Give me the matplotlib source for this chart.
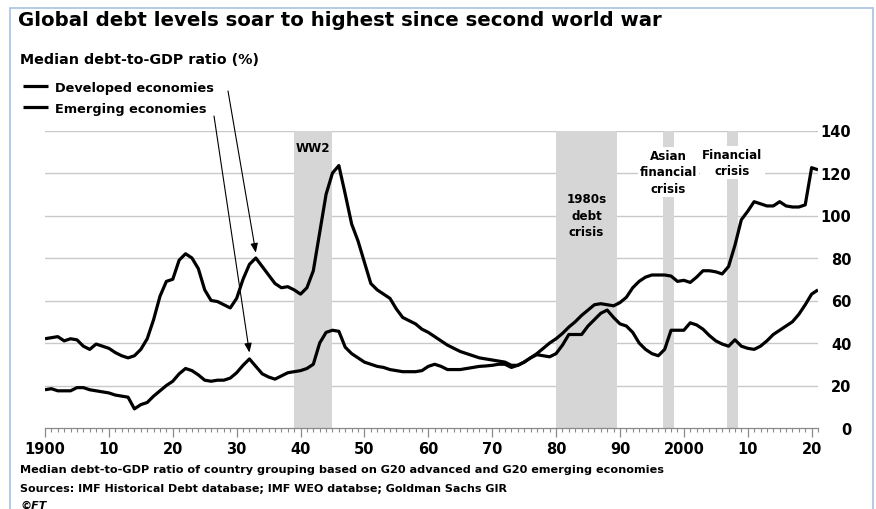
import matplotlib
matplotlib.use("Agg")
import matplotlib.pyplot as plt
from matplotlib.patches import Rectangle

# median debt-to-GDP ratio (%)
years = list(range(1900, 2022))

developed = [
    42, 42.5, 43, 41, 42, 41.5, 38.5, 37, 39.5, 38.5,
    37.5, 35.5, 34, 33, 34, 37, 42, 51, 62, 69,
    70, 79, 82, 80, 75, 65, 60, 59.5, 58, 56.5,
    61, 70, 77, 80, 76, 72, 68, 66, 66.5, 65,
    63, 66, 74, 92, 110, 120, 123.5, 110, 96, 88,
    78, 68, 65, 63, 61, 56, 52, 50.5, 49, 46.5,
    45, 43, 41, 39, 37.5, 36, 35, 34, 33, 32.5,
    32, 31.5, 31, 29.5, 29.5, 31, 33, 35, 37.5, 40,
    42, 44.5, 47.5, 50, 53, 55.5, 58, 58.5, 58, 57.5,
    59, 61.5, 66, 69, 71, 72, 72, 72, 71.5, 69,
    69.5, 68.5, 71, 74, 74, 73.5, 72.5, 76, 86, 98,
    102, 106.5, 105.5, 104.5, 104.5, 106.5, 104.5, 104, 104, 105,
    122.5, 121.5,
]

emerging = [
    18, 18.5, 17.5, 17.5, 17.5, 19, 19, 18, 17.5, 17,
    16.5, 15.5, 15, 14.5, 9, 11, 12, 15, 17.5, 20,
    22, 25.5, 28, 27, 25, 22.5, 22, 22.5, 22.5, 23.5,
    26, 29.5, 32.5, 29, 25.5, 24, 23, 24.5, 26, 26.5,
    27, 28, 30, 40, 45, 46, 45.5, 38, 35, 33,
    31, 30, 29, 28.5, 27.5, 27, 26.5, 26.5, 26.5, 27,
    29, 30, 29, 27.5, 27.5, 27.5, 28, 28.5, 29, 29.2,
    29.5, 30, 30, 28.5, 29.5, 31, 33, 34.5, 34, 33.5,
    35, 39, 44, 44, 44, 48, 51, 54, 55.5, 52,
    49, 48, 45, 40, 37, 35, 34, 37, 46, 46,
    46, 49.5, 48.5, 46.5, 43.5, 41, 39.5, 38.5, 41.5, 38.5,
    37.5, 37, 38.5, 41, 44, 46, 48, 50, 53.5, 58,
    63, 65,
]

# shaded episodes (start, end) and their labels
crisis_spans = [(1939, 1945), (1980, 1989.5), (1996.7, 1998.5), (2006.7, 2008.5)]
crisis_labels = ["WW2", "1980s\ndebt\ncrisis", "Asian\nfinancial\ncrisis", "Financial\ncrisis"]
crisis_label_y = [132, 100, 120.5, 125]

series_names = ["Developed economies", "Emerging economies"]
yticks = [0, 20, 40, 60, 80, 100, 120, 140]
xticks = list(range(1900, 2021, 10))
xticklabels = ["1900", "10", "20", "30", "40", "50", "60", "70", "80", "90", "2000", "10", "20"]

W, H = 876, 510
fig = plt.figure(figsize=(W / 100, H / 100), dpi=100)
fig.patch.set_facecolor("white")
ax = fig.add_axes([45 / W, 81 / H, 773 / W, 297.5 / H])

for yv in yticks[1:]:
    ax.axhline(yv, color="#c9c9c9", lw=1.0, zorder=1)

for (x0, x1) in crisis_spans:
    ax.axvspan(x0, x1, color="#d6d6d6", lw=0, zorder=2)

dev_line, = ax.plot(years, developed, color="black", lw=2.3, zorder=4,
                    solid_joinstyle="round", solid_capstyle="butt")
emg_line, = ax.plot(years, emerging, color="black", lw=2.3, zorder=4,
                    solid_joinstyle="round", solid_capstyle="butt")

lab_kw = dict(ha="center", va="center", fontsize=8.6, fontweight="bold",
              linespacing=1.35, zorder=3)
for (x0, x1), txt, yv in zip(crisis_spans, crisis_labels, crisis_label_y):
    xc = (x0 + x1) / 2
    if txt.startswith("Asian") or txt.startswith("Financial"):
        ax.text(xc, yv, txt, bbox=dict(facecolor="white", edgecolor="none", pad=1.5), **lab_kw)
    else:
        ax.text(xc, yv, txt, **lab_kw)

ax.set_xlim(1900, 2021)
ax.set_ylim(0, 140)

ax.set_xticks(xticks)
ax.set_xticklabels(xticklabels)
ax.set_xticks(range(1900, 2022), minor=True)
ax.tick_params(axis="x", which="major", direction="out", length=6.5, width=0.9,
               color="#8a8a8a", labelsize=10.5, pad=3)
ax.tick_params(axis="x", which="minor", direction="out", length=3, width=0.8,
               color="#8a8a8a")
for t in ax.get_xticklabels():
    t.set_fontweight("bold")

ax.yaxis.tick_right()
ax.set_yticks(yticks)
ax.tick_params(axis="y", length=0, labelsize=10.5, pad=24)
for t in ax.get_yticklabels():
    t.set_fontweight("bold")
    t.set_horizontalalignment("right")

for s in ["top", "left", "right"]:
    ax.spines[s].set_visible(False)
ax.spines["bottom"].set_color("#8a8a8a")
ax.spines["bottom"].set_linewidth(0.9)
ax.set_facecolor("none")

# arrows from legend text to the 1930s peaks
pk_dev = years.index(1933)
pk_emg = years.index(1932)
arrow_kw = dict(arrowstyle="-|>,head_length=0.55,head_width=0.22", color="black",
                lw=0.8, shrinkA=0, shrinkB=0)
ax.annotate("", xy=(years[pk_dev], developed[pk_dev] + 2.5), xycoords="data",
            xytext=(228, H - 92), textcoords="figure pixels", arrowprops=arrow_kw)
ax.annotate("", xy=(years[pk_emg], emerging[pk_emg] + 3), xycoords="data",
            xytext=(214, H - 117), textcoords="figure pixels", arrowprops=arrow_kw)

fig.legend([dev_line, emg_line], series_names, loc="upper left",
           bbox_to_anchor=(23 / W, 1 - 82 / H), frameon=False, borderpad=0,
           borderaxespad=0, handlelength=1.9, handletextpad=0.6, labelspacing=0.62,
           prop=dict(size=9.3, weight="bold"))

fig.text(18 / W, 1 - 21 / H, "Global debt levels soar to highest since second world war",
         fontsize=14.2, fontweight="bold", va="center", ha="left")
fig.text(20 / W, 1 - 60 / H, "Median debt-to-GDP ratio (%)",
         fontsize=10.3, fontweight="bold", va="center", ha="left")

fig.text(20 / W, 1 - 470 / H,
         "Median debt-to-GDP ratio of country grouping based on G20 advanced and G20 emerging economies",
         fontsize=8.1, fontweight="bold", va="center", ha="left")
fig.text(20 / W, 1 - 489 / H, "Sources: IMF Historical Debt database; IMF WEO databse; Goldman Sachs GIR",
         fontsize=8.0, fontweight="bold", va="center", ha="left")
fig.text(20 / W, 1 - 506 / H, "\u00a9FT", fontsize=8, fontweight="bold", fontstyle="italic",
         va="center", ha="left")

# thin frame around the graphic
fig.add_artist(Rectangle((10 / W, -0.05), 863 / W, 1.05 - 9 / H, transform=fig.transFigure,
                         fill=False, edgecolor="#a9c1e2", lw=1.2))

fig.savefig("out.png", dpi=100)
